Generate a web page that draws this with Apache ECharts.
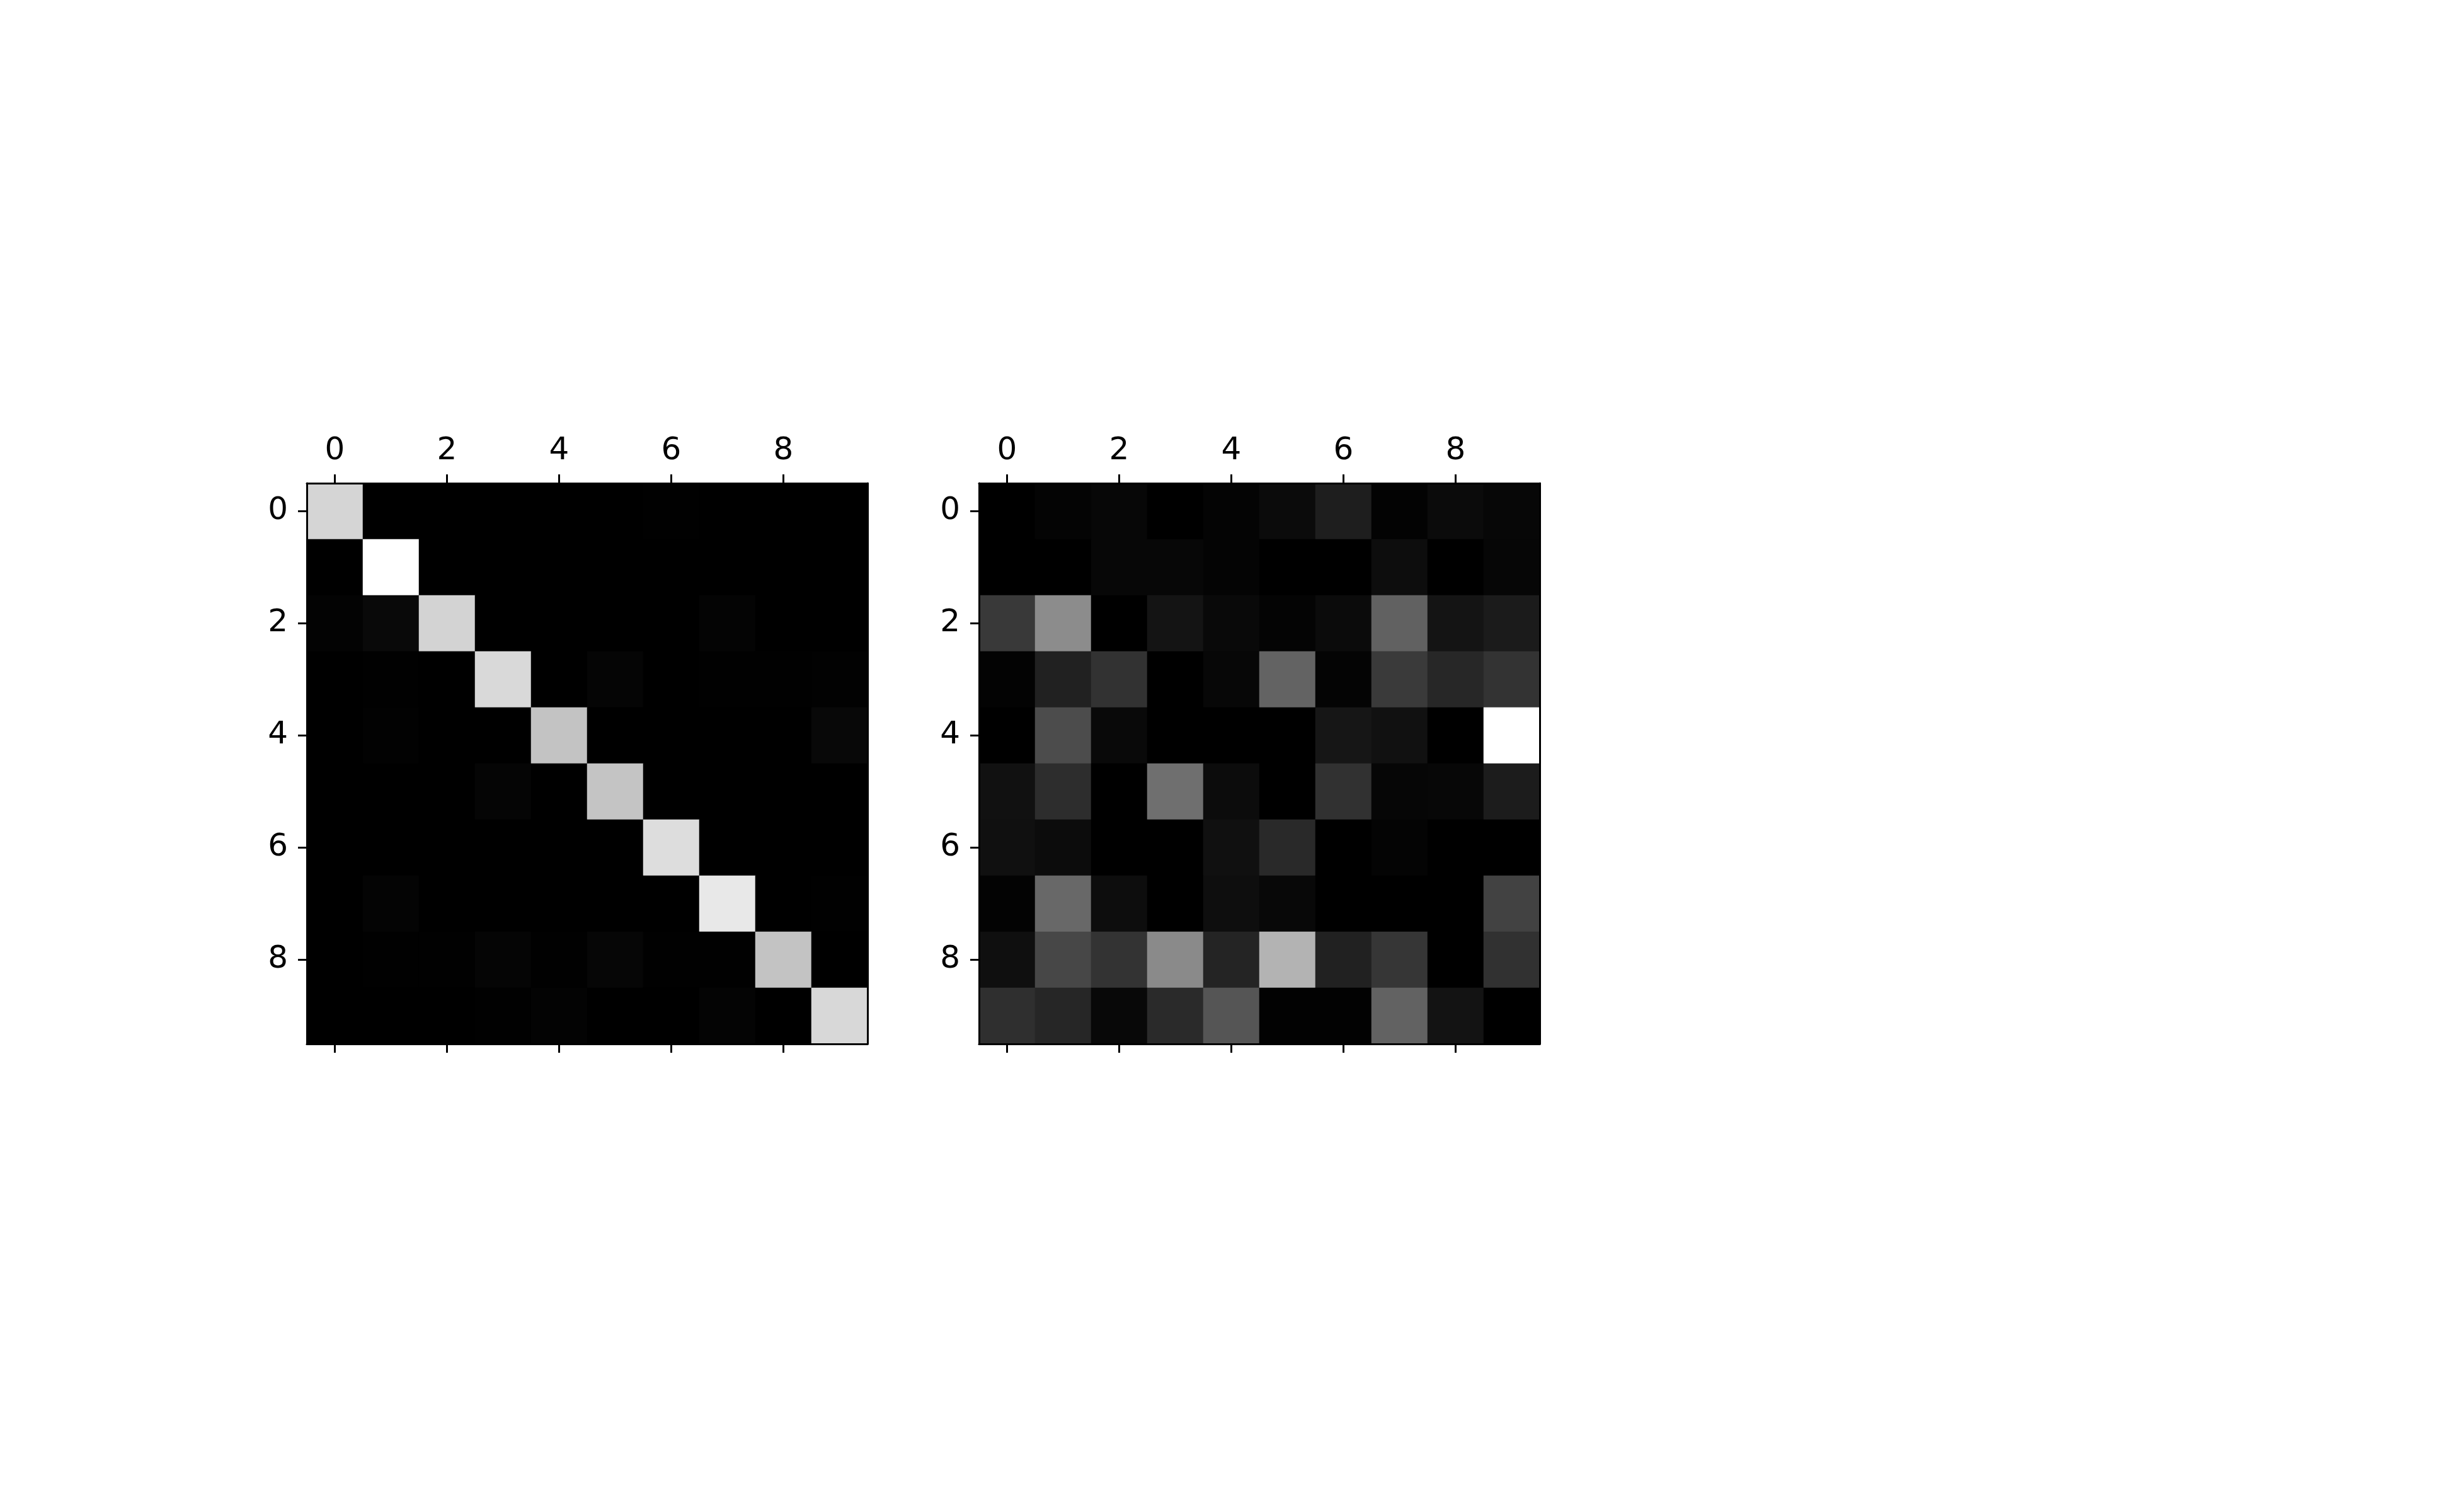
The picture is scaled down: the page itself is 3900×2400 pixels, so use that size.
<!DOCTYPE html>
<html>
<head>
<meta charset="utf-8">
<script src="https://cdn.jsdelivr.net/npm/echarts@6/dist/echarts.min.js"></script>
<style>
html,body{margin:0;padding:0;background:#fff;}
#chart{width:3900px;height:2400px;}
</style>
</head>
<body>
<div id="chart"></div>
<script>
// Tick / category labels (0..9)
const categories = ['0','1','2','3','4','5','6','7','8','9'];

// Left panel: raw matrix, gray intensity (0 = black, 255 = white), rows top->bottom
const leftMatrix = [
  [213, 0, 0, 0, 0, 0, 1, 0, 0, 0],
  [0, 255, 0, 0, 0, 0, 0, 0, 0, 0],
  [3, 9, 211, 0, 0, 0, 0, 4, 0, 0],
  [0, 1, 0, 217, 0, 5, 0, 1, 1, 2],
  [0, 2, 0, 0, 195, 0, 0, 0, 0, 8],
  [0, 0, 0, 5, 0, 196, 0, 0, 0, 0],
  [0, 0, 0, 0, 0, 0, 221, 0, 0, 0],
  [0, 4, 0, 0, 0, 0, 0, 232, 0, 1],
  [0, 1, 1, 5, 1, 6, 1, 1, 195, 0],
  [0, 0, 0, 1, 3, 0, 0, 4, 0, 216]
];

// Right panel: normalized errors (diagonal zeroed), gray intensity 0..255
const rightMatrix = [
  [0, 4, 7, 0, 4, 11, 30, 3, 11, 7],
  [0, 0, 7, 7, 4, 0, 0, 13, 0, 6],
  [57, 140, 0, 20, 9, 4, 11, 97, 20, 27],
  [3, 33, 50, 0, 7, 99, 4, 58, 39, 51],
  [0, 76, 9, 0, 0, 0, 22, 17, 0, 255],
  [17, 45, 0, 111, 12, 0, 49, 6, 7, 28],
  [16, 12, 0, 0, 16, 41, 0, 4, 0, 0],
  [3, 104, 13, 0, 14, 8, 0, 0, 0, 66],
  [15, 71, 51, 138, 36, 179, 33, 54, 0, 49],
  [47, 38, 8, 42, 85, 2, 2, 98, 19, 0]
];

function toCells(m) {
  const out = [];
  for (let r = 0; r < m.length; r++) {
    for (let c = 0; c < m[r].length; c++) {
      out.push([c, r, m[r][c]]);
    }
  }
  return out;
}

const FONT = 'DejaVu Sans';
const FS = 50;
const everyOther = (i) => i % 2 === 0;
const LINE = { color: '#000', width: 3 };
const TICK = { show: true, alignWithLabel: true, interval: everyOther, length: 14, lineStyle: LINE };

function xAxes(gridIndex) {
  return [
    {
      type: 'category', data: categories, gridIndex, position: 'top', z: 10,
      axisLine: { show: true, lineStyle: LINE },
      axisTick: TICK,
      axisLabel: { show: true, interval: everyOther, margin: 26, fontFamily: FONT, fontSize: FS, color: '#000' },
      splitLine: { show: false }
    },
    {
      type: 'category', data: categories, gridIndex, position: 'bottom', z: 10,
      axisLine: { show: true, lineStyle: LINE },
      axisTick: TICK,
      axisLabel: { show: false },
      splitLine: { show: false }
    }
  ];
}

function yAxes(gridIndex) {
  return [
    {
      type: 'category', data: categories, gridIndex, inverse: true, position: 'left', z: 10,
      axisLine: { show: true, lineStyle: LINE },
      axisTick: TICK,
      axisLabel: { show: true, interval: everyOther, margin: 30, fontFamily: FONT, fontSize: FS, color: '#000' },
      splitLine: { show: false }
    },
    {
      type: 'category', data: categories, gridIndex, inverse: true, position: 'right', z: 10,
      axisLine: { show: true, lineStyle: LINE },
      axisTick: { show: false },
      axisLabel: { show: false },
      splitLine: { show: false }
    }
  ];
}

const chart = echarts.init(document.getElementById('chart'), null, { renderer: 'canvas' });
chart.setOption({
  backgroundColor: '#ffffff',
  animation: false,
  textStyle: { fontFamily: FONT },
  grid: [
    { left: 487, top: 767, width: 890, height: 890, show: false },
    { left: 1554, top: 767, width: 890, height: 890, show: false }
  ],
  xAxis: [...xAxes(0), ...xAxes(1)],
  yAxis: [...yAxes(0), ...yAxes(1)],
  visualMap: [
    { type: 'continuous', show: false, seriesIndex: 0, min: 0, max: 255, inRange: { color: ['#000000', '#ffffff'] } },
    { type: 'continuous', show: false, seriesIndex: 1, min: 0, max: 255, inRange: { color: ['#000000', '#ffffff'] } }
  ],
  series: [
    { type: 'heatmap', xAxisIndex: 0, yAxisIndex: 0, data: toCells(leftMatrix), itemStyle: { borderWidth: 0 }, z: 1 },
    { type: 'heatmap', xAxisIndex: 2, yAxisIndex: 2, data: toCells(rightMatrix), itemStyle: { borderWidth: 0 }, z: 1 }
  ]
});
</script>
</body>
</html>
